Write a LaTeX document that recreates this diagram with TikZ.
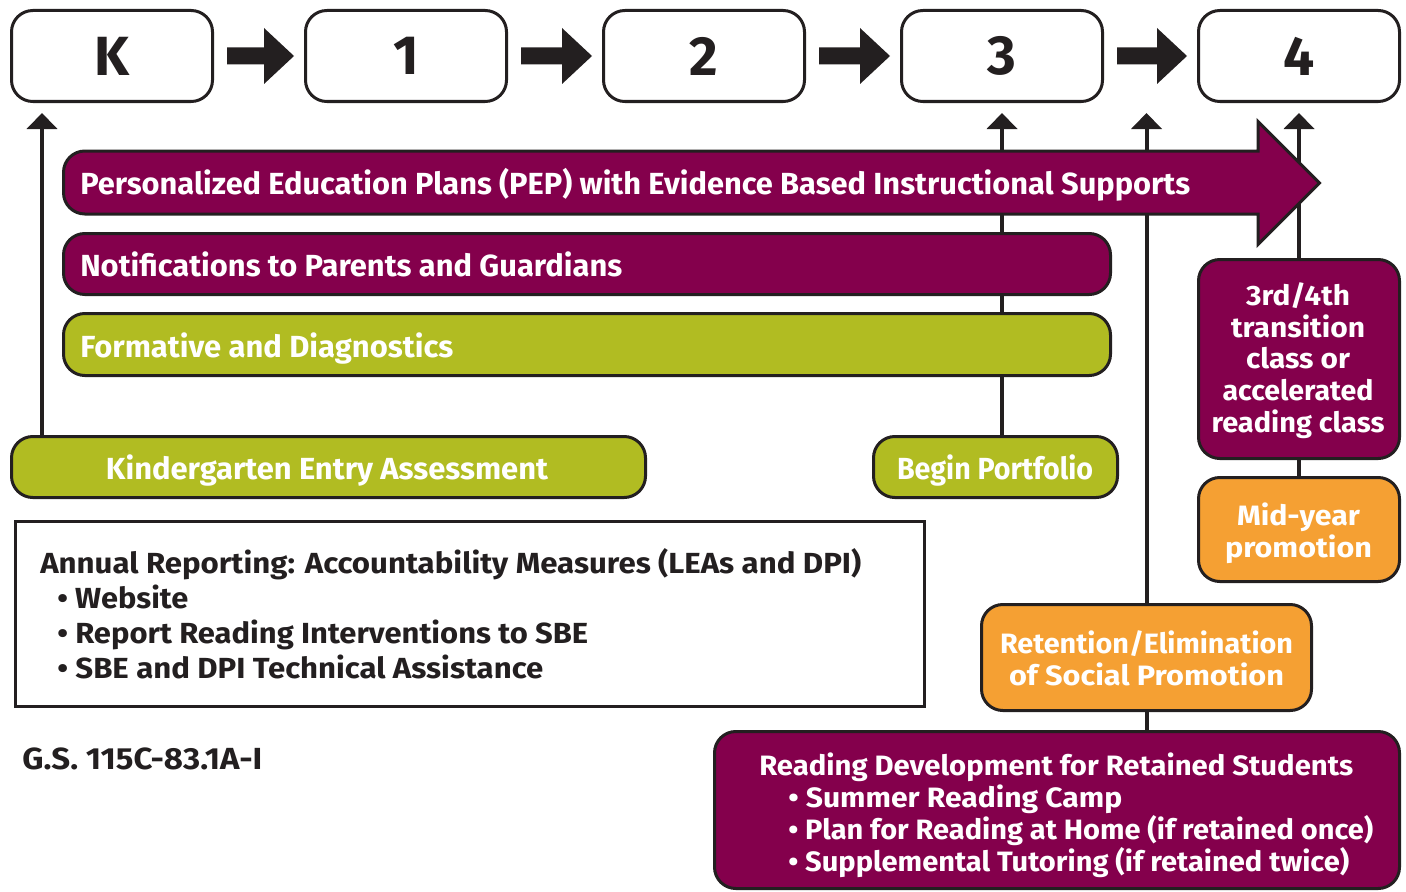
\documentclass[tikz,border=0pt]{standalone}
\usepackage{fontspec}
\usepackage{graphicx}
\setmainfont{Fira Sans}
\usetikzlibrary{arrows.meta,calc,backgrounds}
\definecolor{plum}{RGB}{132,0,76}
\definecolor{lime}{RGB}{177,188,34}
\definecolor{amber}{RGB}{245,160,51}
\definecolor{ink}{RGB}{35,31,32}
\newdimen\pxu \pxu=0.75pt
\newcommand\fw[2]{\resizebox{#1\pxu}{\height}{#2}}
\newcommand\blockarr[2]{%
  \fill[ink] ($(#1.east)+(13,-8.5)$) -- ($(#2.west)+(-40,-8.5)$) -- ($(#2.west)+(-40,-28)$)
    -- ($(#2.west)+(-10,0)$) -- ($(#2.west)+(-40,28)$) -- ($(#2.west)+(-40,8.5)$)
    -- ($(#1.east)+(13,8.5)$) -- cycle;}
\begin{document}
\begin{tikzpicture}[x=0.75pt,y=-0.75pt,
  sz/.style 2 args={minimum width=#1*0.75pt, minimum height=#2*0.75pt},
  box/.style={draw=ink, line width=2.25pt, rounded corners=16pt, inner sep=0pt},
  grade/.style={box, fill=white, sz={201}{91}, font=\fontsize{41.4}{41.4}\selectfont\bfseries, text=ink},
  plumbox/.style={box, fill=plum},
  limebox/.style={box, fill=lime},
  amberbox/.style={box, fill=amber},
  wt/.style={inner sep=0pt, text=white, font=\fontsize{22.9}{24}\selectfont\bfseries},
  wts/.style={inner sep=0pt, text=white, font=\fontsize{21}{22}\selectfont\bfseries},
  dt/.style={inner sep=0pt, text=ink, font=\fontsize{21.8}{22}\selectfont\bfseries},
  uparr/.style={draw=ink, line width=3pt, -{Triangle[width=22.5pt,length=12pt]}},
  conn/.style={draw=ink, line width=3pt}]
\useasboundingbox (0,0) rectangle (1406,892);

% grade boxes
\node[grade] (g0) at (112,56) {K};
\node[grade] (g1) at (406,56) {1};
\node[grade] (g2) at (704,56) {2};
\node[grade] (g3) at (1002,56) {3};
\node[grade] (g4) at (1299,56) {4};
\blockarr{g0}{g1}
\blockarr{g1}{g2}
\blockarr{g2}{g3}
\blockarr{g3}{g4}

% PEP arrow
\draw[ink, line width=2.25pt, fill=plum, line join=miter]
  (700,151) -- (1258,151) -- (1258,121.5) -- (1319.5,183) -- (1258,244.5) -- (1258,214) -- (700,214)
  [rounded corners=16pt] -- (63.5,214) -- (63.5,151) -- cycle;
\node[wt, anchor=base west] (pep) at (80,194) {\fw{1110}{Personalized Education Plans (PEP) with Evidence Based Instructional Supports}};

% bars
\node[plumbox, sz={1047}{61}] (notif) at (587,264) {};
\node[wt, anchor=base west] (notift) at (80,276) {\fw{542}{Notifications to Parents and Guardians}};
\node[limebox, sz={1047}{62}] (form) at (587,344.5) {};
\node[wt, anchor=base west] (formt) at (80,357) {\fw{373}{Formative and Diagnostics}};
\node[limebox, sz={634}{61}] (kea) at (328.5,467) {};
\node[wt, anchor=base] (keat) at (327,479) {\fw{442}{Kindergarten Entry Assessment}};
\node[limebox, sz={244}{61}] (port) at (995.5,467) {};
\node[wt, anchor=base] (portt) at (995,479) {\fw{196}{Begin Portfolio}};

% right column
\node[plumbox, sz={201}{199}] (trans) at (1299,359) {};
\node[wts, anchor=base] (tr1) at (1298,305) {\fw{104}{3rd/4th}};
\node[wts, anchor=base] (tr2) at (1298,337) {\fw{134}{transition}};
\node[wts, anchor=base] (tr3) at (1298,368.5) {\fw{104}{class or}};
\node[wts, anchor=base] (tr4) at (1298,400) {\fw{151}{accelerated}};
\node[wts, anchor=base] (tr5) at (1298,432) {\fw{173}{reading class}};

\node[amberbox, sz={201}{104}] (mid) at (1299,529.5) {};
\node[wts, anchor=base] (mid1) at (1298.5,525) {\fw{123}{Mid-year}};
\node[wts, anchor=base] (mid2) at (1298.5,557) {\fw{147}{promotion}};

\node[amberbox, sz={330}{106}] (ret) at (1146.5,657.5) {};
\node[wts, anchor=base] (ret1) at (1146.5,653) {\fw{293}{Retention/Elimination}};
\node[wts, anchor=base] (ret2) at (1146.5,685) {\fw{275}{of Social Promotion}};

\node[plumbox, sz={685}{157}] (rdev) at (1057,810) {};
\node[wts, anchor=base west] (rd1) at (759,775) {\fw{594}{Reading Development for Retained Students}};
\node[wts, anchor=base west] (rd2) at (788,807) {\fw{334}{• Summer Reading Camp}};
\node[wts, anchor=base west] (rd3) at (788,839) {\fw{585}{• Plan for Reading at Home (if retained once)}};
\node[wts, anchor=base west] (rd4) at (788,871) {\fw{561}{• Supplemental Tutoring (if retained twice)}};

% annual reporting
\node[draw=ink, line width=2.25pt, fill=white, sz={909}{185}] (ann) at (470,614) {};
\node[dt, anchor=base west] (an1) at (40,573) {\fw{821}{Annual Reporting: Accountability Measures (LEAs and DPI)}};
\node[dt, anchor=base west] (an2) at (57,608) {\fw{131}{• Website}};
\node[dt, anchor=base west] (an3) at (57,643) {\fw{531}{• Report Reading Interventions to SBE}};
\node[dt, anchor=base west] (an4) at (57,678) {\fw{486}{• SBE and DPI Technical Assistance}};

\node[dt, anchor=base west, font=\fontsize{22.9}{24}\selectfont\bfseries] (gs) at (22,769) {\fw{240}{G.S. 115C-83.1A-I}};

% connectors
\coordinate (c0) at (42,113);
\begin{scope}[on background layer]
\draw[uparr] (kea.north -| c0) -- (c0);
\draw[uparr] (port.north -| g3) -- (g3.south |- c0);
\draw[uparr] (ret.north) -- (ret.north |- c0);
\draw[uparr] (trans.north) -- (trans.north |- c0);
\draw[conn] (trans.south) -- (mid.north);
\draw[conn] (ret.south) -- (ret.south |- rdev.north);
\end{scope}
\end{tikzpicture}
\end{document}
